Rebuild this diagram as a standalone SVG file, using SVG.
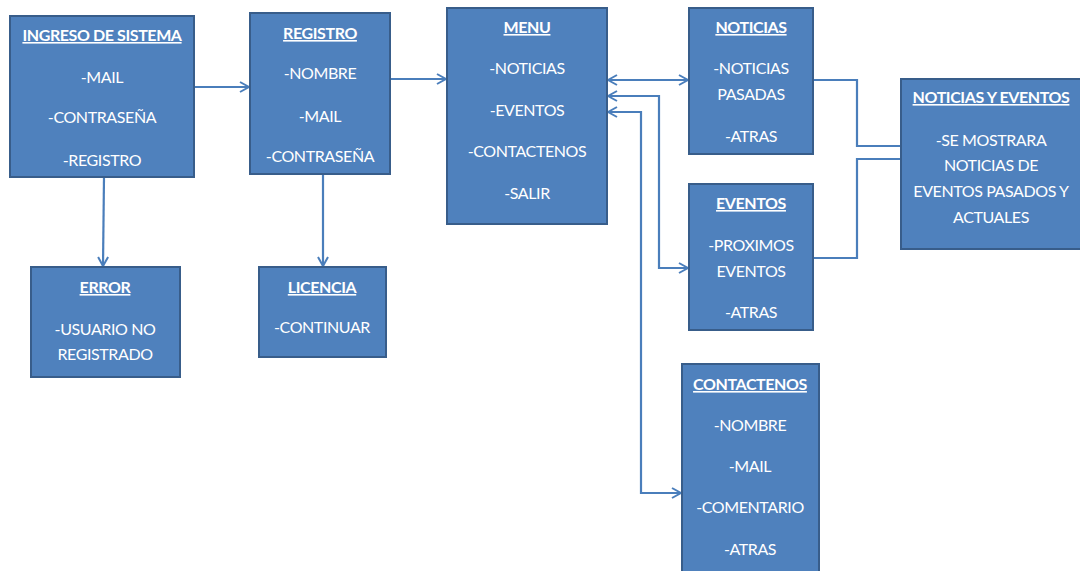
<svg xmlns="http://www.w3.org/2000/svg" width="1080" height="571" viewBox="0 0 1080 571">
<style>
.box{fill:#4F81BD;stroke:#385D8A;stroke-width:2}
text{font-family:Lato,"Liberation Sans",sans-serif;font-size:16px;fill:#fff;text-anchor:middle;letter-spacing:-0.4px}
.t{font-weight:bold;text-decoration:underline}
.c{fill:none;stroke:#4A7EBB;stroke-width:2.2}
</style>
<defs>
<marker id="a" viewBox="0 0 12 12" refX="10.5" refY="6" markerWidth="12" markerHeight="12" markerUnits="userSpaceOnUse" orient="auto-start-reverse">
<path d="M1.5,1 L10.5,6 L1.5,11" fill="none" stroke="#4A7EBB" stroke-width="2"/>
</marker>
</defs>
<rect width="1080" height="571" fill="#fff"/>
<g id="connectors">
<path class="c" d="M194,87 H249" marker-end="url(#a)"/>
<path class="c" d="M390,79 H446" marker-end="url(#a)"/>
<path class="c" d="M104,177 L103,266" marker-end="url(#a)"/>
<path class="c" d="M323,174 V266" marker-end="url(#a)"/>
<path class="c" d="M608,80 H688" marker-start="url(#a)" marker-end="url(#a)"/>
<path class="c" d="M608,96 H659 V268 H688" marker-start="url(#a)" marker-end="url(#a)"/>
<path class="c" d="M608,112 H641 V493 H681" marker-start="url(#a)" marker-end="url(#a)"/>
<path class="c" d="M813,80 H857 V146 H901"/>
<path class="c" d="M813,258 H857 V159 H901"/>
</g>
<g id="ingreso">
<rect class="box" x="10" y="16" width="184" height="161"/>
<text class="t" x="102" y="41">INGRESO DE SISTEMA</text>
<text x="102" y="83">-MAIL</text>
<text x="102" y="123">-CONTRASEÑA</text>
<text x="102" y="166">-REGISTRO</text>
</g>
<g id="registro">
<rect class="box" x="250" y="13" width="140" height="161"/>
<text class="t" x="320" y="39">REGISTRO</text>
<text x="320" y="79">-NOMBRE</text>
<text x="320" y="122">-MAIL</text>
<text x="320" y="162">-CONTRASEÑA</text>
</g>
<g id="menu">
<rect class="box" x="447" y="8" width="160" height="216"/>
<text class="t" x="527" y="33">MENU</text>
<text x="527" y="74">-NOTICIAS</text>
<text x="527" y="116">-EVENTOS</text>
<text x="527" y="157">-CONTACTENOS</text>
<text x="527" y="199">-SALIR</text>
</g>
<g id="noticias">
<rect class="box" x="689" y="8" width="124" height="146"/>
<text class="t" x="751" y="33">NOTICIAS</text>
<text x="751" y="74">-NOTICIAS</text>
<text x="751" y="100">PASADAS</text>
<text x="751" y="142">-ATRAS</text>
</g>
<g id="eventos">
<rect class="box" x="689" y="184" width="124" height="146"/>
<text class="t" x="751" y="209">EVENTOS</text>
<text x="751" y="251">-PROXIMOS</text>
<text x="751" y="277">EVENTOS</text>
<text x="751" y="318">-ATRAS</text>
</g>
<g id="contactenos">
<rect class="box" x="682" y="364" width="137" height="215"/>
<text class="t" x="750" y="390">CONTACTENOS</text>
<text x="750" y="431">-NOMBRE</text>
<text x="750" y="472">-MAIL</text>
<text x="750" y="513">-COMENTARIO</text>
<text x="750" y="555">-ATRAS</text>
</g>
<g id="noticias-eventos">
<rect class="box" x="901" y="79" width="185" height="170"/>
<text class="t" x="991" y="103">NOTICIAS Y EVENTOS</text>
<text x="991" y="146">-SE MOSTRARA</text>
<text x="991" y="171">NOTICIAS DE</text>
<text x="991" y="197">EVENTOS PASADOS Y</text>
<text x="991" y="223">ACTUALES</text>
</g>
<g id="error">
<rect class="box" x="31" y="267" width="149" height="110"/>
<text class="t" x="105" y="293">ERROR</text>
<text x="105" y="335">-USUARIO NO</text>
<text x="105" y="360">REGISTRADO</text>
</g>
<g id="licencia">
<rect class="box" x="259" y="267" width="127" height="90"/>
<text class="t" x="322" y="293">LICENCIA</text>
<text x="322" y="333">-CONTINUAR</text>
</g>
</svg>
